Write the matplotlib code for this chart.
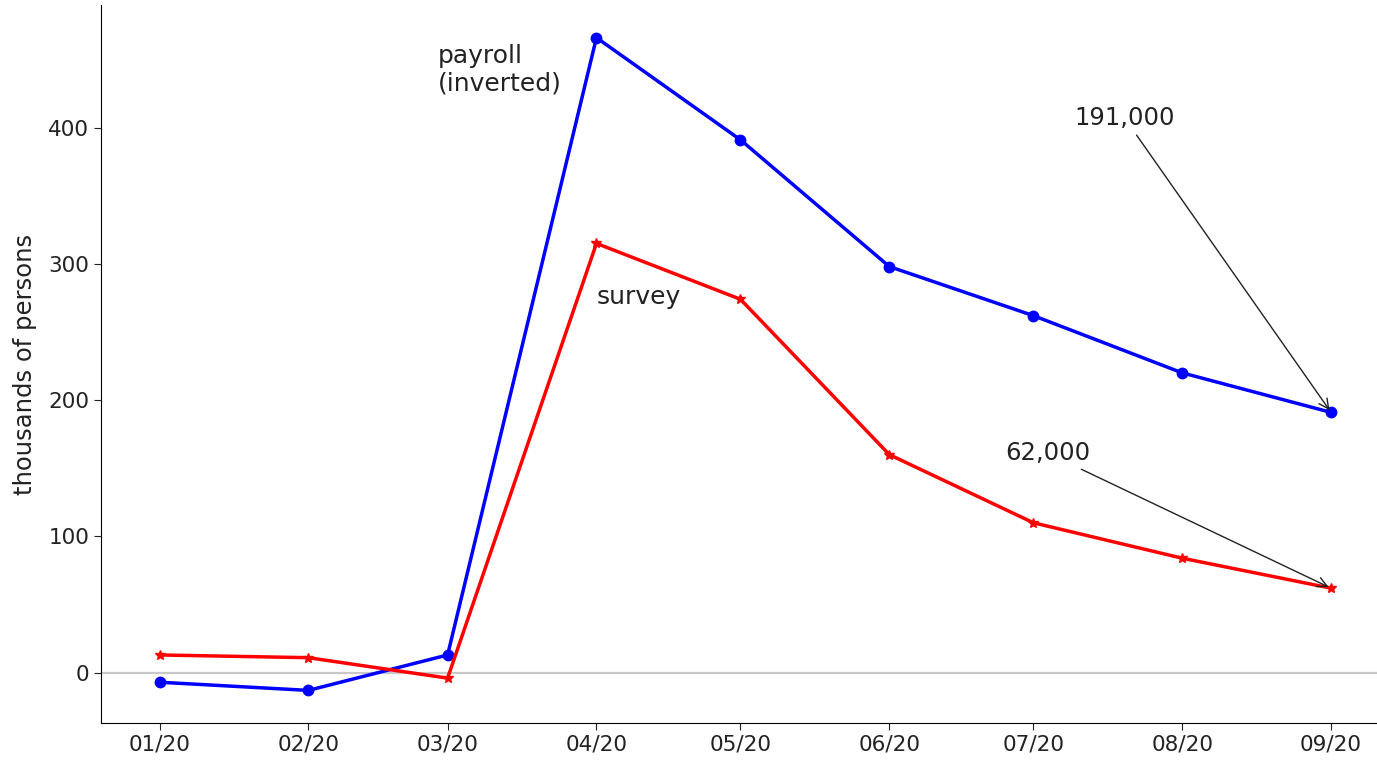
import matplotlib
matplotlib.use("Agg")
import matplotlib.pyplot as plt
import matplotlib.dates as mdates
import pandas as pd

months = pd.date_range("2020-01-01", "2020-09-01", freq="MS")
payroll = [-7, -13, 13, 466, 391, 298, 262, 220, 191]   # inverted, thousands
survey = [13, 11, -4, 315, 274, 160, 110, 84, 62]

fig = plt.figure(figsize=(13.77, 7.61), dpi=100)
ax = fig.add_axes([0.0733, 0.0499, 0.9359, 0.9435])

ax.axhline(0, color="#c8c8c8", linewidth=1.6, zorder=1)
ax.plot(months, payroll, color="blue", marker="o", markersize=7.5, linewidth=2.5)
ax.plot(months, survey, color="red", marker="*", markersize=7.5, linewidth=2.5)

ax.xaxis.set_major_locator(mdates.MonthLocator())
ax.xaxis.set_major_formatter(mdates.DateFormatter("%m/%y"))
ax.set_yticks([0, 100, 200, 300, 400])
ax.tick_params(labelsize=15.5, colors="#222222", length=5)
ax.set_ylabel("thousands of persons", fontsize=17.5, color="#222222", labelpad=8)

ax.spines["top"].set_visible(False)
ax.spines["right"].set_visible(False)

ax.text(pd.Timestamp("2020-02-28"), 461, "payroll\n(inverted)", fontsize=18,
        ha="left", va="top", color="#222222", linespacing=1.15)
ax.text(pd.Timestamp("2020-04-01"), 276, "survey", fontsize=18,
        ha="left", va="center", color="#222222")

ax.annotate("191,000", xy=(months[-1], payroll[-1]),
            xytext=(pd.Timestamp("2020-07-20"), 407), fontsize=17.5,
            ha="center", va="center", color="#222222",
            arrowprops=dict(arrowstyle="->", color="#222222", linewidth=1.0))
ax.annotate("62,000", xy=(months[-1], survey[-1]),
            xytext=(pd.Timestamp("2020-07-04"), 161), fontsize=17.5,
            ha="center", va="center", color="#222222",
            arrowprops=dict(arrowstyle="->", color="#222222", linewidth=1.0))

fig.savefig("out.png", dpi=100)
